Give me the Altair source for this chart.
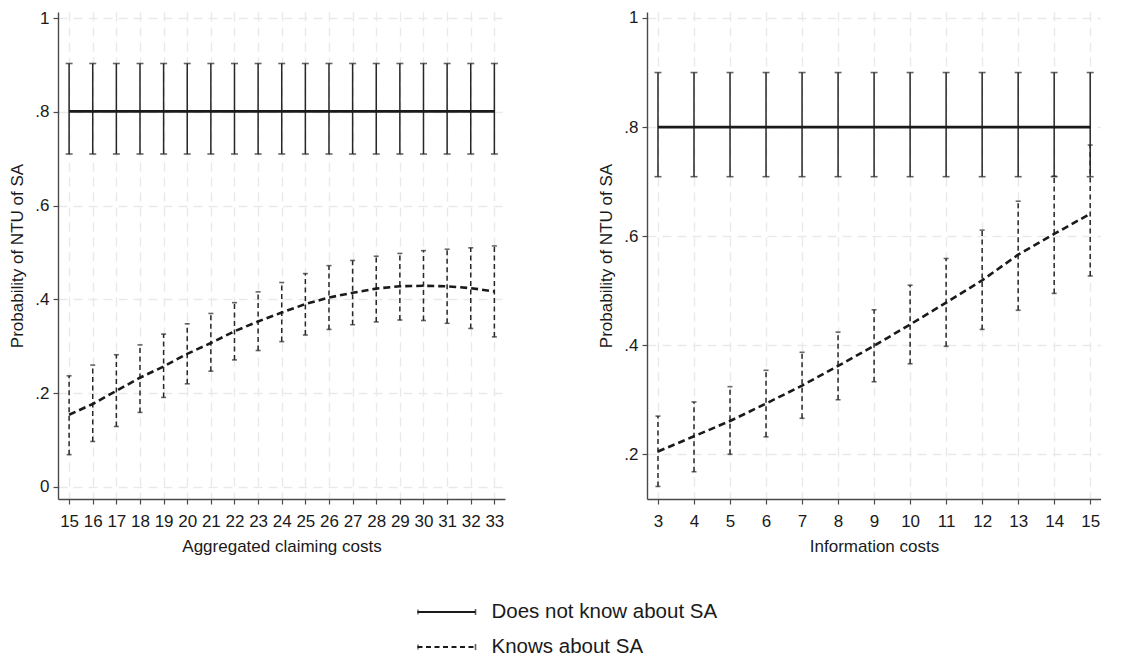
import altair as alt
import pandas as pd

# ---------------- data ----------------
claim_x = [15, 16, 17, 18, 19, 20, 21, 22, 23, 24, 25, 26, 27, 28, 29, 30, 31, 32, 33]
claim_no_mean = [0.801, 0.801, 0.801, 0.801, 0.801, 0.801, 0.801, 0.801, 0.801, 0.801,
                 0.801, 0.801, 0.801, 0.801, 0.801, 0.801, 0.801, 0.801, 0.801]
claim_no_lo = [0.710, 0.710, 0.710, 0.710, 0.710, 0.710, 0.710, 0.710, 0.710, 0.710,
               0.710, 0.710, 0.710, 0.710, 0.710, 0.710, 0.710, 0.710, 0.710]
claim_no_hi = [0.903, 0.903, 0.903, 0.903, 0.903, 0.903, 0.903, 0.903, 0.903, 0.903,
               0.903, 0.903, 0.903, 0.903, 0.903, 0.903, 0.903, 0.903, 0.903]
claim_yes_mean = [0.154, 0.177, 0.205, 0.233, 0.257, 0.284, 0.307, 0.332, 0.353, 0.372,
                  0.390, 0.404, 0.414, 0.423, 0.428, 0.429, 0.428, 0.424, 0.417]
claim_yes_lo = [0.069, 0.097, 0.129, 0.159, 0.191, 0.220, 0.247, 0.271, 0.291, 0.310,
                0.324, 0.336, 0.346, 0.352, 0.356, 0.355, 0.349, 0.338, 0.320]
claim_yes_hi = [0.237, 0.260, 0.282, 0.303, 0.326, 0.348, 0.370, 0.393, 0.416, 0.436,
                0.455, 0.472, 0.483, 0.492, 0.498, 0.504, 0.507, 0.510, 0.514]

info_x = [3, 4, 5, 6, 7, 8, 9, 10, 11, 12, 13, 14, 15]
info_no_mean = [0.800, 0.800, 0.800, 0.800, 0.800, 0.800, 0.800, 0.800, 0.800, 0.800,
                0.800, 0.800, 0.800]
info_no_lo = [0.709, 0.709, 0.709, 0.709, 0.709, 0.709, 0.709, 0.709, 0.709, 0.709,
              0.709, 0.709, 0.709]
info_no_hi = [0.900, 0.900, 0.900, 0.900, 0.900, 0.900, 0.900, 0.900, 0.900, 0.900,
              0.900, 0.900, 0.900]
info_yes_mean = [0.205, 0.233, 0.261, 0.293, 0.326, 0.362, 0.399, 0.438, 0.478, 0.519,
                 0.566, 0.604, 0.641]
info_yes_lo = [0.141, 0.168, 0.200, 0.232, 0.266, 0.300, 0.333, 0.366, 0.398, 0.429,
               0.464, 0.495, 0.527]
info_yes_hi = [0.270, 0.296, 0.324, 0.354, 0.387, 0.424, 0.465, 0.510, 0.559, 0.611,
               0.664, 0.710, 0.767]

groups = ["Does not know about SA", "Knows about SA"]
y_ticks_left = [0, 0.2, 0.4, 0.6, 0.8, 1]
y_ticks_right = [0.2, 0.4, 0.6, 0.8, 1]

FONT = "Liberation Sans"
INK = "#1a1a1a"
AX = "#4a4a4a"
YTITLE = "Probability of NTU of SA"
LABEL_EXPR = "datum.value == 0 ? '0' : datum.value == 1 ? '1' : '.' + format(datum.value * 10, 'd')"


def frame(x, mean, lo, hi):
    return pd.DataFrame({"x": x, "mean": mean, "lo": lo, "hi": hi})


def panel(df_no, df_yes, xdom, ydom, xticks, yticks, xtitle, width, height):
    xs = alt.Scale(domain=xdom, nice=False, zero=False)
    ys = alt.Scale(domain=ydom, nice=False, zero=False)
    xax = alt.Axis(values=xticks, title=xtitle, format="d")
    yax = alt.Axis(values=yticks, title=YTITLE, labelExpr=LABEL_EXPR)
    X = alt.X("x:Q", scale=xs, axis=xax, title=xtitle)

    def Y(field):
        return alt.Y(field, type="quantitative", scale=ys, axis=yax, title=YTITLE)

    layers = []
    for df, dash_line, dash_bar, lw, cap in [
        (df_no, [1, 0], [1, 0], 2.7, 7),
        (df_yes, [7, 4], [5, 3.5], 2.6, 5),
    ]:
        base = alt.Chart(df)
        bars = base.mark_rule(color="#262626", strokeWidth=1.5, strokeDash=dash_bar).encode(
            x=X, y=Y("lo"), y2="hi:Q")
        cap_lo = base.mark_tick(orient="horizontal", size=cap, thickness=1.6, color="#262626").encode(
            x=X, y=Y("lo"))
        cap_hi = base.mark_tick(orient="horizontal", size=cap, thickness=1.6, color="#262626").encode(
            x=X, y=Y("hi"))
        line = base.mark_line(color=INK, strokeWidth=lw, strokeDash=dash_line).encode(
            x=X, y=Y("mean"))
        layers += [bars, cap_lo, cap_hi, line]
    return alt.layer(*layers).properties(width=width, height=height)


left = panel(frame(claim_x, claim_no_mean, claim_no_lo, claim_no_hi),
             frame(claim_x, claim_yes_mean, claim_yes_lo, claim_yes_hi),
             [14.53, 33.45], [-0.0256, 1.0128], claim_x, y_ticks_left,
             "Aggregated claiming costs", 447, 487)
right = panel(frame(info_x, info_no_mean, info_no_lo, info_no_hi),
              frame(info_x, info_yes_mean, info_yes_lo, info_yes_hi),
              [2.695, 15.3], [0.118, 1.011], info_x, y_ticks_right,
              "Information costs", 454, 487)

# ---------------- legend ----------------
leg_df = pd.DataFrame({"label": groups})
ly = alt.Y("label:N", scale=alt.Scale(type="point", padding=0, domain=groups), axis=None)
dash_scale = alt.Scale(domain=groups, range=[[1, 0], [5, 3.5]])
leg_line = alt.Chart(leg_df).mark_rule(color=INK, strokeWidth=2).encode(
    x=alt.value(0), x2=alt.value(58), y=ly,
    strokeDash=alt.StrokeDash("label:N", scale=dash_scale, legend=None))
leg_cap_r = alt.Chart(leg_df).mark_tick(orient="vertical", size=6, thickness=1.6, color=INK).encode(
    x=alt.value(58), y=ly)
leg_cap_l = alt.Chart(leg_df).mark_tick(orient="vertical", size=5, thickness=1.4, color=INK).encode(
    x=alt.value(0.5), y=ly)
leg_text = alt.Chart(leg_df).mark_text(align="left", baseline="middle", font=FONT,
                                        fontSize=20.5, color=INK).encode(
    x=alt.value(74), y=ly, text="label:N")
legend = alt.layer(leg_line, leg_cap_l, leg_cap_r, leg_text).properties(width=324, height=35)

chart = alt.vconcat(
    alt.hconcat(left, right, spacing=92),
    legend,
    spacing=48,
    center=True,
).properties(
    padding=0,
    background="white",
).configure_view(
    strokeWidth=0, stroke="transparent"
).configure_axis(
    grid=True, gridDash=[9, 6], gridColor="#e9e9e9", gridWidth=1.4,
    domainColor=AX, domainWidth=1.4, tickColor=AX, tickSize=5, tickWidth=1.2,
    labelFont=FONT, labelFontSize=17, labelColor=INK, labelFlush=False,
    labelOverlap=False, labelBound=False,
    titleFont=FONT, titleFontSize=17, titleColor=INK, titleFontWeight="normal",
).configure_axisX(
    labelPadding=9, titlePadding=9,
).configure_axisY(
    labelPadding=4, titlePadding=8,
)

chart.save("out.html", embed_options={"renderer": "svg", "actions": False})
